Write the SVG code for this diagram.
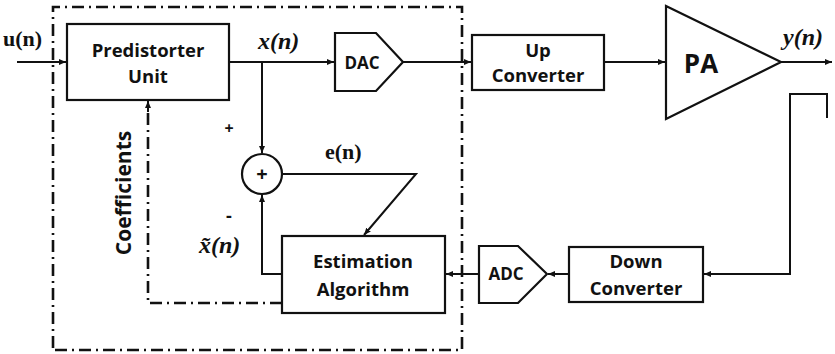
<svg xmlns="http://www.w3.org/2000/svg" width="835" height="354" viewBox="0 0 835 354">
<defs>
<marker id="ah" markerWidth="8" markerHeight="8" refX="7" refY="4" orient="auto" markerUnits="userSpaceOnUse">
<path d="M0,1 L7,4 L0,7 Z" fill="#111"/>
</marker>
<style>
.ln{fill:none;stroke:#111;stroke-width:2}
.bx{fill:#fff;stroke:#111;stroke-width:2.2}
.dd{fill:none;stroke:#111;stroke-width:2.6;stroke-dasharray:12 5 2 5}
.t{font-family:"Open Sans","Liberation Sans",sans-serif;font-weight:bold;font-size:18.5px;fill:#111;text-anchor:middle}
.m{font-family:"Liberation Serif",serif;font-weight:bold;font-style:italic;font-size:24px;fill:#111}
.s{font-family:"Liberation Serif",serif;font-weight:bold;font-size:22px;fill:#111}
</style>
</defs>
<rect width="835" height="354" fill="#fff"/>
<g id="boundary">
<path class="dd" d="M53,348 V7 H462 V350 H53"/>
</g>
<g id="connectors">
<path class="ln" d="M17,62 H66" marker-end="url(#ah)"/>
<path class="ln" d="M229,62 H334" marker-end="url(#ah)"/>
<path class="ln" d="M262,62 V153" marker-end="url(#ah)"/>
<path class="ln" d="M403,62 H471" marker-end="url(#ah)"/>
<path class="ln" d="M604,62 H665" marker-end="url(#ah)"/>
<path class="ln" d="M781,62 H832" marker-end="url(#ah)"/>
<path class="ln" d="M827,118 V94 H790 V274 H704" marker-end="url(#ah)"/>
<path class="ln" d="M569,274 H548" marker-end="url(#ah)"/>
<path class="ln" d="M479,274 H446" marker-end="url(#ah)"/>
<path class="ln" d="M282,274 H262 V195" marker-end="url(#ah)"/>
<path class="ln" d="M282,174 H416 L364,235" marker-end="url(#ah)"/>
<path class="dd" d="M282,303 H148 V110" />
<path class="ln" d="M148,112 V101" marker-end="url(#ah)"/>
</g>
<g id="predistorter">
<rect class="bx" x="67" y="24" width="162" height="76"/>
<text class="t" x="148" y="57">Predistorter</text>
<text class="t" x="148" y="83">Unit</text>
</g>
<g id="dac">
<path class="bx" d="M335,33 H376 L403,62 L376,91 H335 Z"/>
<text class="t" x="362" y="69" style="font-size:17px">DAC</text>
</g>
<g id="upconv">
<rect class="bx" x="472" y="35" width="132" height="55"/>
<text class="t" x="538" y="57">Up</text>
<text class="t" x="538" y="82">Converter</text>
</g>
<g id="pa">
<path class="bx" d="M666,6 L781,62 L666,119 Z"/>
<text class="t" x="701" y="73" style="font-size:26px">PA</text>
</g>
<g id="sum">
<circle class="bx" cx="262" cy="174" r="20"/>
<text class="t" x="262" y="181" style="font-size:20px">+</text>
</g>
<g id="estimation">
<rect class="bx" x="282" y="236" width="163" height="77"/>
<text class="t" x="363" y="268">Estimation</text>
<text class="t" x="363" y="296">Algorithm</text>
</g>
<g id="adc">
<path class="bx" d="M479,246 H518 L547,274 L518,303 H479 Z"/>
<text class="t" x="506" y="280" style="font-size:17px">ADC</text>
</g>
<g id="downconv">
<rect class="bx" x="569" y="247" width="134" height="55"/>
<text class="t" x="636" y="268">Down</text>
<text class="t" x="636" y="295">Converter</text>
</g>
<g id="labels">
<text class="s" x="3" y="46">u(n)</text>
<text class="m" x="258" y="49">x(n)</text>
<text class="m" x="783" y="45">y(n)</text>
<text class="s" x="325" y="159">e(n)</text>
<text class="m" x="199" y="253">x̃(n)</text>
<text class="t" x="229" y="134" style="font-size:16px">+</text>
<text class="t" x="229" y="222" style="font-size:18px">-</text>
<text class="t" transform="translate(131,193) rotate(-90)" style="font-size:21px">Coefficients</text>
</g>
</svg>
